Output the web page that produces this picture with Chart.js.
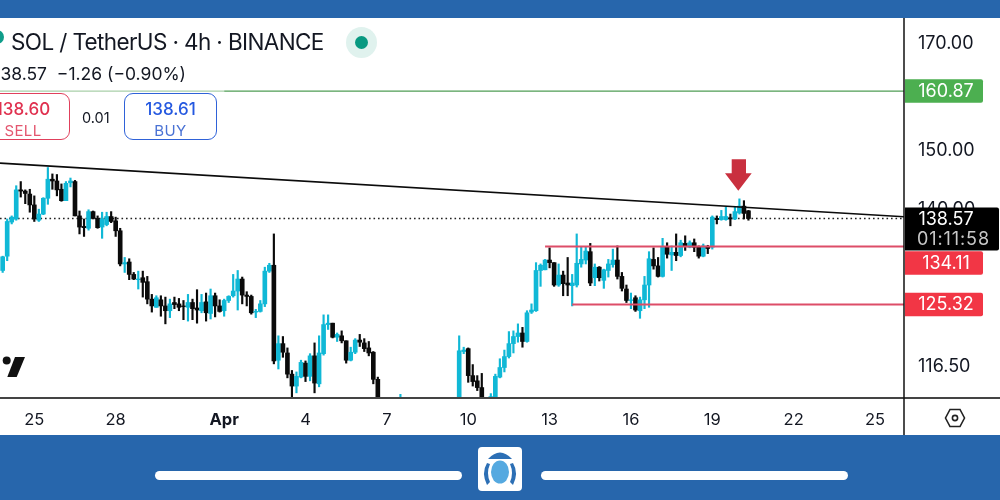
<!DOCTYPE html>
<html><head><meta charset="utf-8">
<script src="https://cdn.jsdelivr.net/npm/chart.js@4"></script>
<style>
html,body{margin:0;padding:0;background:#fff;overflow:hidden;width:1000px;height:500px;font-family:Inter,Roboto,sans-serif}
canvas{position:absolute;left:0;top:0}
.abs{position:absolute;white-space:nowrap}
</style></head><body>
<canvas id="c" width="1000" height="500"></canvas>
<div class="abs" style="left:0;top:0;width:1000px;height:18px;background:#2766ac"></div>
<div class="abs" style="left:0;top:435px;width:1000px;height:65px;background:#2766ac"></div>
<div class="abs" style="left:155px;top:471px;width:307px;height:8.5px;border-radius:5px;background:#fff"></div>
<div class="abs" style="left:541px;top:471px;width:307px;height:8.5px;border-radius:5px;background:#fff"></div>
<svg class="abs" style="left:478px;top:447px" width="44" height="44" viewBox="0 0 44 44">
<rect width="44" height="44" rx="4" fill="#fff"/>
<path d="M10 12 Q22 -1 34 12 Z" fill="#2c6fb5"/>
<ellipse cx="22" cy="25" rx="9" ry="11.5" fill="#55a9e0"/>
<path d="M9 16 Q3 26 9 38 L12 35 Q8 26 12 17 Z" fill="#2c6fb5"/>
<path d="M35 16 Q41 26 35 38 L32 35 Q36 26 32 17 Z" fill="#2c6fb5"/>
</svg>
<div class="abs" style="left:-10px;top:30px;width:14px;height:14px;border-radius:50%;background:#0f9d8a"></div>
<div class="abs" id="title" style="left:11px;top:28px;font-size:22.5px;letter-spacing:-.62px;line-height:28px;color:#131722">SOL / TetherUS · 4h · BINANCE</div>
<div class="abs" style="left:346px;top:27px;width:31px;height:31px;border-radius:50%;background:#e0f2ee"></div>
<div class="abs" style="left:355px;top:36px;width:13px;height:13px;border-radius:50%;background:#089981"></div>
<div class="abs" id="ohlc" style="right:814px;top:62px;font-size:17.5px;line-height:24px;color:#131722">138.57&nbsp; −1.26 (−0.90%)</div>
<div class="abs" style="left:-24px;top:93px;width:92px;height:45px;border:1.8px solid #e0405c;border-radius:9px;text-align:center;color:#e0314f">
<div style="font-size:17px;font-weight:500;line-height:20px;margin-top:5px">138.60</div><div style="font-size:15px;line-height:17px;letter-spacing:.4px;margin-top:3px;color:#e4566f">SELL</div></div>
<div class="abs" style="left:82px;top:108px;font-size:14.5px;line-height:20px;color:#131722">0.01</div>
<div class="abs" style="left:124px;top:93px;width:91px;height:45px;border:1.8px solid #2f62d8;border-radius:9px;text-align:center;color:#2458e0">
<div style="font-size:17px;font-weight:500;line-height:20px;margin-top:5px">138.61</div><div style="font-size:15px;line-height:17px;letter-spacing:.4px;margin-top:3px;color:#4a72d4">BUY</div></div>
<svg class="abs" style="left:0;top:350px" width="30" height="30" viewBox="0 0 30 30">
<circle cx="6.7" cy="10.5" r="4" fill="#111"/><path d="M15 7H25L16.7 27H7.3Z" fill="#111"/></svg>
<svg class="abs" style="left:720px;top:155px" width="40" height="40" viewBox="0 0 40 40">
<path d="M11.7 4.3H26V18.3H31.7L18.3 35.7L5 18.3H11.7Z" fill="#c9303f"/></svg>
<svg class="abs" style="left:943px;top:406px" width="24" height="24" viewBox="0 0 24 24" fill="none" stroke="#222" stroke-width="1.6">
<path d="M7 3.5H17L21.5 12L17 20.5H7L2.5 12Z"/><circle cx="12" cy="12" r="2.6"/></svg>
<script>
const tickPositions=[7,25,49,67,85,103,121,139,157,175,193];
const tickLabels=['25','28','Apr','4','7','10','13','16','19','22','25'];
const priceTicks=[170,150,140,116.5];
const open=[130.4,132.6,138.0,138.5,143.3,143.1,142.6,140.8,138.3,139.3,
141.9,145.1,144.8,143.4,141.5,144.5,144.7,139.0,137.3,137.0,
139.7,138.6,137.2,137.6,138.9,138.2,136.6,131.4,131.7,129.8,
129.0,129.3,128.7,126.1,124.9,126.0,125.1,124.4,125.6,125.4,
125.1,124.9,125.6,124.8,124.4,125.7,124.0,126.6,125.1,124.4,
125.9,126.6,127.3,129.1,126.7,126.5,124.2,124.3,125.4,130.3,
131.2,117.4,119.7,118.4,115.5,113.9,115.1,117.0,115.2,118.0,
114.2,118.3,122.4,122.6,120.6,120.8,120.1,117.4,118.5,120.2,
119.8,119.1,118.5,114.8,null,null,null,null,111.3,null,
null,null,null,null,null,null,null,null,null,null,
null,110.6,118.6,119.0,115.3,114.6,113.7,null,111.1,112.4,
115.1,116.4,117.9,119.7,120.7,121.2,120.0,124.2,124.4,130.4,
130.5,132.0,131.6,128.2,129.7,128.5,128.1,128.2,131.4,132.0,
133.3,129.3,130.9,128.9,130.4,131.3,132.0,129.5,127.6,125.9,
126.3,124.4,126.0,128.2,132.1,131.1,129.5,134.0,132.8,133.2,
132.7,134.6,134.0,134.7,134.1,132.6,134.0,134.0,138.6,138.4,
138.4,138.7,138.5,139.5,140.6,139.83];
const high=[132.6,138.5,139.0,144.0,144.7,143.3,143.4,142.3,140.1,142.0,
147.1,146.0,145.9,144.3,144.7,145.3,144.9,139.8,138.5,140.0,
139.8,139.0,139.6,139.6,139.7,138.8,137.0,132.4,132.2,130.1,
130.3,130.3,129.5,126.8,126.6,126.6,126.4,126.1,126.4,126.2,
125.9,126.8,126.1,127.5,126.8,127.0,127.6,127.0,126.0,126.1,
126.6,129.8,130.4,129.4,127.2,126.7,124.6,125.9,130.9,131.5,
136.1,120.8,120.7,119.1,116.0,115.8,117.4,117.3,118.3,119.8,
120.8,123.8,123.8,122.6,121.2,121.5,120.1,119.2,120.4,121.0,
120.4,120.0,118.6,115.1,null,null,null,null,112.8,null,
null,null,null,null,null,null,null,null,null,null,
null,120.8,119.2,119.1,116.8,115.3,115.6,null,112.9,115.5,
117.6,118.8,121.4,121.5,122.5,122.0,124.4,125.4,131.6,131.4,
132.1,133.9,131.6,131.4,130.3,132.4,129.8,136.1,134.1,134.0,
134.6,131.4,131.0,130.6,132.1,133.7,134.2,130.1,128.2,127.0,
126.6,126.4,129.5,133.3,133.9,132.4,135.4,134.7,134.2,136.1,
135.1,135.8,135.0,135.3,134.2,134.5,134.3,139.0,139.0,139.9,
140.4,139.3,140.4,141.8,141.5,139.9];
const low=[130.1,131.9,137.7,138.3,142.1,141.0,139.6,138.1,138.1,139.2,
140.9,143.4,142.3,141.4,141.5,143.8,139.0,136.1,135.7,136.7,
138.5,137.0,135.4,137.4,137.9,135.7,131.1,130.1,129.0,129.0,
127.6,126.4,125.4,124.2,124.9,123.6,122.5,123.4,124.7,124.4,
123.1,122.9,123.1,122.6,124.1,122.9,123.2,123.5,124.2,123.6,
125.6,126.4,124.5,125.4,125.1,123.9,123.4,124.2,125.0,130.1,
116.9,116.2,117.8,115.0,112.2,113.0,115.0,114.5,114.6,113.0,
113.8,118.1,121.7,120.5,120.0,119.8,117.0,117.3,118.3,119.3,
118.6,118.0,114.2,110.6,null,null,null,null,111.0,null,
null,null,null,null,null,null,null,null,null,null,
null,110.0,118.3,114.4,113.9,113.3,111.1,null,110.6,112.3,
115.0,115.8,117.7,118.4,119.9,119.2,119.9,124.0,124.3,128.0,
130.5,130.8,128.0,128.0,126.6,126.6,125.1,127.9,130.9,131.4,
128.1,128.1,128.8,127.7,129.4,130.9,129.1,127.3,125.6,124.7,
124.3,123.3,124.7,124.9,130.6,129.4,129.4,132.3,130.4,131.9,
132.5,133.5,133.9,133.3,132.3,132.5,133.0,133.7,137.7,138.3,
138.3,137.4,138.4,139.3,138.5,138.3];
const close=[132.5,138.1,138.8,143.3,143.1,142.7,140.8,138.5,139.3,141.9,
145.1,144.8,143.3,141.5,144.4,144.8,139.0,137.2,137.1,139.7,
138.6,137.1,138.5,138.9,138.1,136.6,131.4,131.6,129.8,129.1,
129.1,128.6,126.1,125.1,126.3,125.1,124.4,125.4,125.3,124.9,
125.0,125.6,124.7,124.5,125.6,124.1,126.6,125.1,124.3,125.9,
126.5,127.3,129.1,126.7,126.5,124.1,124.3,125.4,130.3,131.2,
117.3,119.7,118.5,115.5,113.9,115.2,117.1,115.2,118.0,114.3,
118.4,122.4,122.6,120.6,121.0,120.1,117.4,118.5,120.2,119.9,
119.0,118.4,114.8,111.1,null,null,null,null,111.8,null,
null,null,null,null,null,null,null,null,null,null,
null,118.7,118.8,115.3,114.5,113.7,112.0,null,112.5,115.2,
116.4,117.9,119.7,120.7,121.2,120.0,124.1,124.5,130.4,131.2,
132.0,131.6,128.2,129.7,128.4,128.2,128.5,131.5,132.1,133.4,
128.5,130.9,129.3,130.5,131.4,132.0,129.5,127.7,125.9,126.0,
124.5,126.0,128.2,132.2,131.1,129.5,134.0,132.9,133.2,132.7,
134.7,134.2,134.7,134.0,132.6,134.2,133.8,138.8,138.4,138.9,
138.9,138.5,139.7,140.6,139.4,138.57];
const trendline=[147.85,138.86];
const targetLevel=160.87, lastPrice=138.57, resistance=134.11, support=125.32;
const resistanceStart=120, supportStart=126;

const UP='#10b8d6', DOWN='#0a0a0a', XMIN=-0.59, XMAX=199.41;
const idx=open.map((v,i)=>i).filter(i=>open[i]!==null);
const colorOf=i=>close[i]>=open[i]?UP:DOWN;
const lvl=(a,b,y,color,width,dash,order)=>({type:'line',data:[{x:a,y:y},{x:b,y:y}],borderColor:color,borderWidth:width,borderDash:dash||[],pointRadius:0,order:order});

const chrome={id:'chrome',afterDraw(ch){
 const c=ch.ctx,a=ch.chartArea,y=ch.scales.y;
 c.save();
 c.strokeStyle='#444';c.lineWidth=2;c.beginPath();c.moveTo(0,a.bottom);c.lineTo(1000,a.bottom);c.stroke();
 c.strokeStyle='#111';c.lineWidth=1.5;c.beginPath();c.moveTo(a.right,a.top);c.lineTo(a.right,435);c.stroke();
 const F='18px Inter, Roboto, sans-serif';
 const badge=(val,off,fill)=>{const py=y.getPixelForValue(val)+off;
  c.fillStyle=fill;c.beginPath();c.roundRect(905,py-11.8,78,23.6,[0,2,2,0]);c.fill();
  c.fillStyle='#fff';c.font=F;c.textAlign='center';c.textBaseline='middle';
  c.fillText(val.toFixed(2),946,py+0.5);};
 badge(targetLevel,0,'#4caf50');
 badge(resistance,16.5,'#f23645');
 badge(support,0,'#f23645');
 c.fillStyle='#000';c.beginPath();c.roundRect(905,207.5,94,43,[0,2,2,0]);c.fill();
 c.font=F;c.textAlign='center';c.textBaseline='middle';
 c.fillStyle='#fff';c.fillText(lastPrice.toFixed(2),946,219.5);
 c.fillStyle='#c8c8c8';c.letterSpacing='0.9px';c.fillText('01:11:58',953.5,240);c.letterSpacing='0px';
 c.restore();
}};

new Chart(document.getElementById('c'),{
 type:'bar',
 data:{datasets:[
  {type:'line',data:[{x:XMIN,y:trendline[0]},{x:XMAX,y:trendline[1]}],borderColor:'#0b0b0b',borderWidth:1.7,pointRadius:0,order:0},
  lvl(XMIN,49,targetLevel,'#a9cfa9',1.2,null,1),
  lvl(49,XMAX,targetLevel,'#4f9d55',1.2,null,1),
  lvl(resistanceStart,XMAX,resistance,'#dd4d68',2,null,1),
  lvl(supportStart,XMAX,support,'#dd4d68',2,null,1),
  {data:idx.map(i=>({x:i,y:[open[i],close[i]]})),backgroundColor:idx.map(colorOf),barThickness:4,grouped:false,order:2},
  {data:idx.map(i=>({x:i,y:[low[i],high[i]]})),backgroundColor:idx.map(colorOf),barThickness:1.5,grouped:false,order:3},
  lvl(XMIN,XMAX,lastPrice,'#222',1.5,[1.6,2.9],4)
 ]},
 options:{
  responsive:false,animation:false,
  layout:{padding:{top:18,bottom:65,left:0,right:0}},
  plugins:{legend:{display:false},tooltip:{enabled:false}},
  scales:{
   x:{type:'linear',offset:false,min:XMIN,max:XMAX,grid:{display:false},border:{display:false},
    afterBuildTicks(s){s.ticks=tickPositions.map(v=>({value:v}));},
    afterFit(s){s.height=37;s.paddingLeft=0;s.paddingRight=0;},
    ticks:{autoSkip:false,maxRotation:0,padding:4,color:'#131722',
     font:c=>({family:'Inter, Roboto, sans-serif',size:16.5,weight:c.tick&&c.tick.value===49?'700':'400'}),
     callback:v=>tickLabels[tickPositions.indexOf(v)]}},
   y:{type:'logarithmic',position:'right',min:112.32,max:175.23,grid:{display:false},border:{display:false},
    afterBuildTicks(s){s.ticks=priceTicks.map(v=>({value:v}));},
    afterFit(s){s.width=96;s.paddingTop=0;s.paddingBottom=0;},
    ticks:{padding:6,color:'#131722',font:{family:'Inter, Roboto, sans-serif',size:18},callback:v=>v.toFixed(2)}}
  }
 },
 plugins:[chrome]
});
</script>
</body></html>
